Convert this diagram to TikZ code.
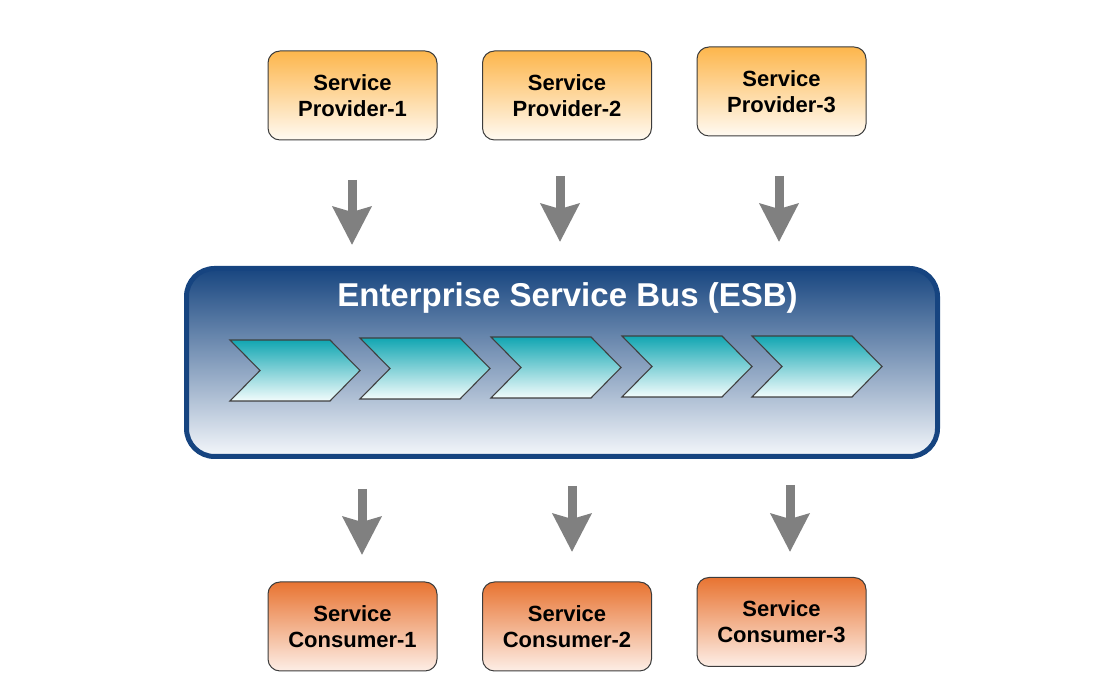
\documentclass[tikz,border=0pt]{standalone}
\usepackage{fontspec}
\setmainfont{Liberation Sans}
\usetikzlibrary{arrows.meta}
\definecolor{provtop}{RGB}{253,182,76}
\definecolor{provbot}{RGB}{255,250,242}
\definecolor{constop}{RGB}{232,116,50}
\definecolor{consbot}{RGB}{253,238,230}
\definecolor{esbtop}{RGB}{24,70,128}
\definecolor{esbbot}{RGB}{244,247,251}
\definecolor{esbline}{RGB}{22,68,128}
\definecolor{chevtop}{RGB}{18,166,178}
\definecolor{chevbot}{RGB}{242,252,252}
\definecolor{boxline}{RGB}{60,60,60}
\definecolor{arrowgray}{RGB}{128,128,128}
\begin{document}
\begin{tikzpicture}[x=1pt,y=1pt,
  svcbox/.style={draw=boxline, line width=1pt, rounded corners=12pt,
    minimum width=169pt, minimum height=89pt, align=center, inner sep=0pt,
    font=\fontsize{22}{26}\selectfont\bfseries, text=black},
  prov/.style={svcbox, top color=provtop, bottom color=provbot},
  cons/.style={svcbox, top color=constop, bottom color=consbot},
  esbbox/.style={draw=esbline, line width=5pt, rounded corners=28pt,
    minimum width=751pt, minimum height=188pt, inner sep=0pt,
    top color=esbtop, bottom color=esbbot},
  esbtitle/.style={text=white, font=\fontsize{33}{38}\selectfont\bfseries, inner sep=0pt},
  chev/.style={draw=black!75, line width=1.1pt, line join=miter,
    top color=chevtop, bottom color=chevbot},
  flow/.style={draw=arrowgray, line width=9pt,
    -{Stealth[width=38pt, length=38pt, inset=5pt]}}
]
\useasboundingbox (0,0) rectangle (1112,695);

% providers
\node[prov] (p1) at (352.5,599.5) {Service\\Provider-1};
\node[prov] (p2) at (567,599.5) {Service\\Provider-2};
\node[prov] (p3) at (781.5,603.5) {Service\\Provider-3};

% consumers
\node[cons] (c1) at (352.5,68.5) {Service\\Consumer-1};
\node[cons] (c2) at (567,68.5) {Service\\Consumer-2};
\node[cons] (c3) at (781.5,73) {Service\\Consumer-3};

% ESB
\node[esbbox] (esb) at (562,332.5) {};
\node[esbtitle] (title) at (567.5,397) {Enterprise Service Bus (ESB)};

% chevrons
\foreach \x/\t in {230/340, 360/338, 491/337, 622/336, 752/336}{
  \pgfmathsetmacro{\yt}{695-\t}
  \pgfmathsetmacro{\ym}{695-\t-30.5}
  \pgfmathsetmacro{\yb}{695-\t-61}
  \draw[chev] (\x,\yt) -- ({\x+100},\yt) -- ({\x+130},\ym) -- ({\x+100},\yb)
    -- (\x,\yb) -- ({\x+30},\ym) -- cycle;
}

% arrows provider -> ESB
\coordinate (a1s) at (352,515); \coordinate (a1e) at (352,450);
\coordinate (a2s) at (560,519); \coordinate (a2e) at (560,453);
\coordinate (a3s) at (779,519); \coordinate (a3e) at (779,453);
\draw[flow] (a1s) -- (a1e);
\draw[flow] (a2s) -- (a2e);
\draw[flow] (a3s) -- (a3e);

% arrows ESB -> consumers
\coordinate (b1s) at (362,206); \coordinate (b1e) at (362,140);
\coordinate (b2s) at (572,209); \coordinate (b2e) at (572,143);
\coordinate (b3s) at (790,210); \coordinate (b3e) at (790,143);
\draw[flow] (b1s) -- (b1e);
\draw[flow] (b2s) -- (b2e);
\draw[flow] (b3s) -- (b3e);
\end{tikzpicture}
\end{document}
